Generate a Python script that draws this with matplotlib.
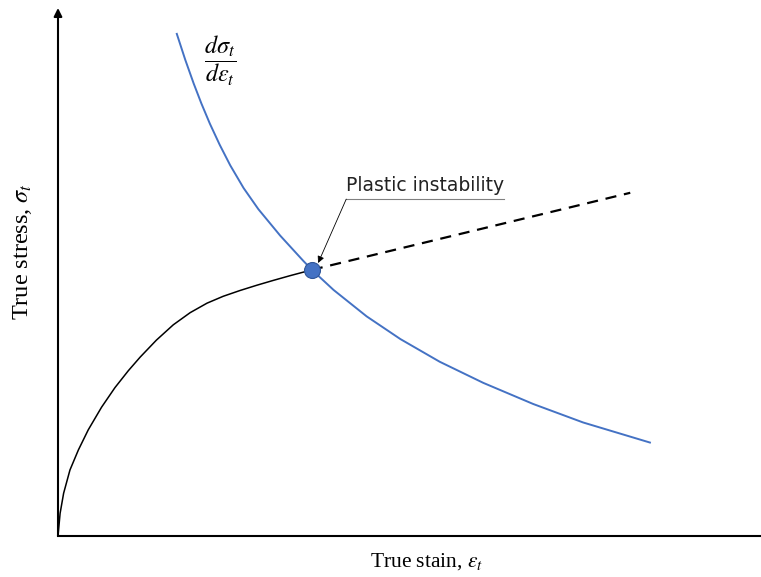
import matplotlib
matplotlib.use("Agg")
import matplotlib.pyplot as plt

# values (arbitrary units, strain 0-10, stress 0-10)
flow_strain = [0, 0.03, 0.08, 0.17, 0.29, 0.43, 0.62, 0.81, 1.00, 1.17, 1.40, 1.64,
               1.88, 2.12, 2.35, 2.59, 2.83, 3.06, 3.30, 3.61]
flow_stress = [0, 0.43, 0.81, 1.25, 1.63, 2.01, 2.44, 2.81, 3.13, 3.39, 3.71, 4.00,
               4.23, 4.41, 4.54, 4.65, 4.75, 4.84, 4.93, 5.04]

rate_strain = [1.69, 1.81, 1.93, 2.04, 2.16, 2.30, 2.45, 2.64, 2.85, 3.16, 3.49, 3.62,
               3.92, 4.39, 4.87, 5.43, 6.05, 6.76, 7.47, 8.42]
rate_stress = [9.51, 9.02, 8.57, 8.19, 7.81, 7.41, 7.02, 6.59, 6.19, 5.69, 5.21, 5.03,
               4.66, 4.16, 3.73, 3.30, 2.90, 2.50, 2.15, 1.77]

extrap_strain = [3.61, 8.14]
extrap_stress = [5.04, 6.50]

point = (3.61, 5.04)

blue = "#4472C4"

fig = plt.figure(figsize=(7.61, 5.77), dpi=100)
ax = fig.add_axes([58 / 761, 41 / 577, 703 / 761, 528 / 577])
ax.set_xlim(0, 10)
ax.set_ylim(0, 10)
for s in ax.spines.values():
    s.set_visible(False)
ax.set_xticks([])
ax.set_yticks([])

# axes: plain x axis, y axis with arrow head
ax.plot([0, 1], [0, 0], transform=ax.transAxes, color="black", lw=1.5, clip_on=False)
ax.annotate("", xy=(0, 1), xytext=(0, 0), xycoords="axes fraction",
            arrowprops=dict(arrowstyle="-|>", color="black", lw=1.5,
                            mutation_scale=12, shrinkA=0, shrinkB=0))

ax.plot(flow_strain, flow_stress, color="black", lw=1.1)
ax.plot(extrap_strain, extrap_stress, color="black", lw=1.6, ls=(0, (5, 3.5)))
ax.plot(rate_strain, rate_stress, color=blue, lw=1.4)
ax.plot(*point, "o", ms=11.5, color=blue, mec="#2F5597", mew=0.8, zorder=5)

# annotation
ax.plot([4.10, 6.34], [6.38, 6.38], color="#808080", lw=0.8)
ax.annotate("", xy=(3.70, 5.17), xytext=(4.10, 6.38),
            arrowprops=dict(arrowstyle="-|>", color="black", lw=0.6,
                            mutation_scale=10, shrinkA=0, shrinkB=0))
ax.text(5.22, 6.45, "Plastic instability", ha="center", va="bottom",
        fontsize=13.5, family="DejaVu Sans", color="#222222")

plt.rcParams["mathtext.fontset"] = "stix"
ax.text(2.30, 9.0, r"$\dfrac{d\sigma_t}{d\varepsilon_t}$", ha="center", va="center",
        fontsize=17.5)

fig.text(427 / 761, 1 - 562 / 577, r"True stain, $\varepsilon_t$", ha="center", va="center",
         fontsize=15.5, family="Liberation Serif")
fig.text(22 / 761, 1 - 252 / 577, r"True stress, $\sigma_t$", ha="center", va="center",
         rotation=90, fontsize=17.5, family="Liberation Serif")

fig.savefig("out.png", dpi=100)
